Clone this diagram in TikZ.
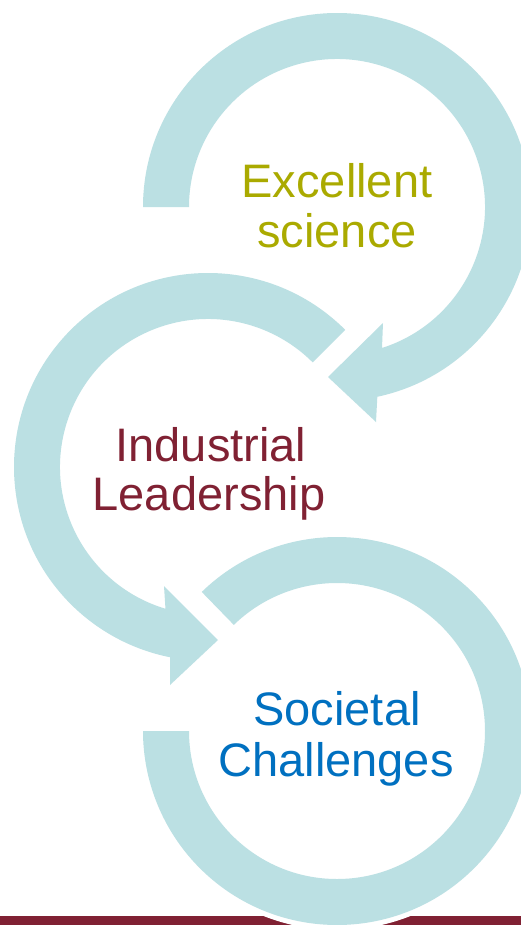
\documentclass[tikz,border=0pt]{standalone}
\usepackage{fontspec}
\setmainfont{Liberation Sans}
\usetikzlibrary{calc}
\definecolor{ringblue}{RGB}{187,224,227}
\definecolor{barred}{RGB}{128,33,51}
\definecolor{olivetext}{RGB}{170,170,0}
\definecolor{redtext}{RGB}{128,33,51}
\definecolor{bluetext}{RGB}{0,112,192}
\tikzset{
  ringshape/.style={fill=ringblue},
  label/.style={inner sep=0pt, anchor=base, font=\fontsize{47bp}{50bp}\selectfont}
}
\begin{document}
\begin{tikzpicture}[x=1bp,y=-1bp]
\useasboundingbox (0,0) rectangle (521,925);
\clip (0,0) rectangle (521,925);
\fill[white] (0,0) rectangle (521,925);
% bottom bar
\fill[barred] (0,916) rectangle (521,925);
\coordinate (c1) at (337,207);
\coordinate (c2) at (208,467);
\coordinate (c3) at (337,731);
% ring 1
\path[ringshape] ($(c1)+(180:194)$) arc[start angle=180, end angle=438, radius=194]
  -- (376,422) -- (328,377) -- (383,323)
  -- ($(c1)+(432.3:148)$) arc[start angle=432.3, end angle=180, radius=148] -- cycle;
% ring 2
\path[ringshape] ($(c2)+(-45:194)$) arc[start angle=-45, end angle=-258.75, radius=194]
  -- (170,685) -- (218,640) -- (164,586)
  -- ($(c2)+(-253.3:148)$) arc[start angle=-253.3, end angle=-45, radius=148] -- cycle;
% ring 3
\path[ringshape, preaction={draw=white, line width=10bp}] ($(c3)+(225.8:194)$) arc[start angle=225.8, end angle=540, radius=194]
  -- ($(c3)+(540:148)$) arc[start angle=540, end angle=225.8, radius=148] -- cycle;
% labels
\node[label, text=olivetext] (es1) at (337,197) {Excellent};
\node[label, text=olivetext] (es2) at (337,247) {science};
\node[label, text=redtext] (il1) at (211,461) {Industrial};
\node[label, text=redtext] (il2) at (209,510) {Leadership};
\node[label, text=bluetext] (sc1) at (337,725) {Societal};
\node[label, text=bluetext] (sc2) at (336,776) {Challenges};
\end{tikzpicture}
\end{document}
